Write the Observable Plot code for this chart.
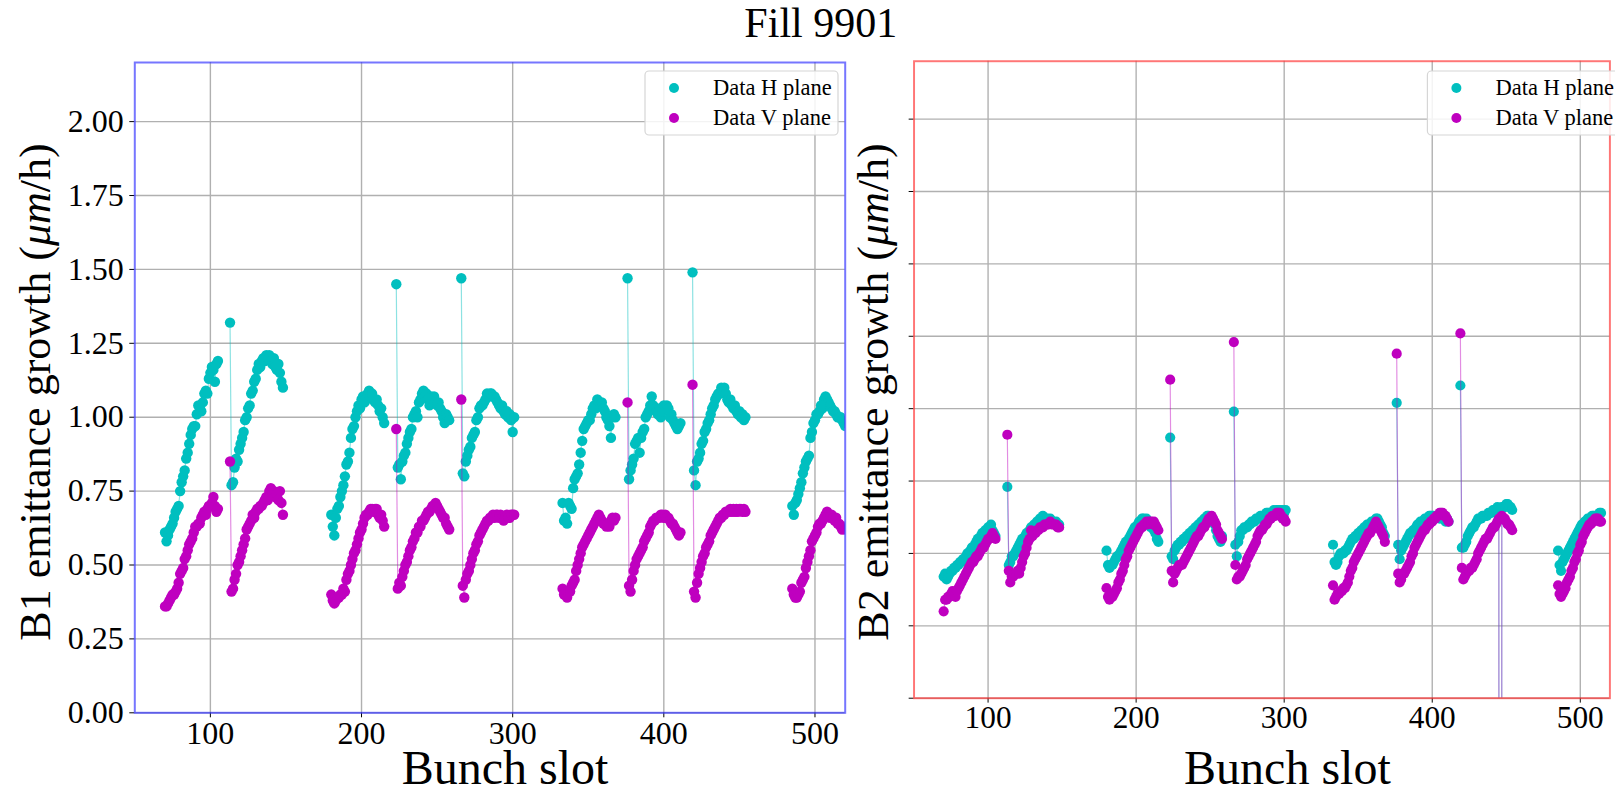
<!DOCTYPE html>
<html>
<head>
<meta charset="utf-8">
<script src="https://cdn.jsdelivr.net/npm/d3@7"></script>
<script src="https://cdn.jsdelivr.net/npm/@observablehq/plot@0.6"></script>
<style>
  html, body { margin: 0; padding: 0; background: #fff; }
  #wrap { position: relative; width: 1615px; height: 792px; overflow: hidden; background: #fff; }
  .panel { position: absolute; top: 0; }
  #overlay { position: absolute; left: 0; top: 0; pointer-events: none; }
</style>
</head>
<body>
<div id="wrap">
  <div id="p1" class="panel" style="left:0px"></div>
  <div id="p2" class="panel" style="left:782.4px"></div>
  <svg id="overlay" width="1615" height="792"></svg>
</div>
<script>
// ---- data ----
const title = "Fill 9901";
const xLabel = "Bunch slot";
const seriesNames = ["Data H plane", "Data V plane"];
const xTicks = [100, 200, 300, 400, 500];
const yTicks = [0, 0.25, 0.5, 0.75, 1.0, 1.25, 1.5, 1.75, 2.0];
const batchStarts = [70, 113, 180, 223, 266, 333, 376, 419, 485];

const b1H = [
  [0.61,0.58,0.60,0.62,0.63,0.64,0.66,0.68,0.69,0.70,0.75,0.78,0.80,0.82,0.86,0.88,0.91,0.94,0.96,0.97,0.97,1.01,1.04,1.03,1.02,1.05,1.08,1.09,1.08,1.13,1.15,1.17,1.16,1.12,1.18,1.19],
  [1.32,0.77,0.78,0.83,0.86,0.85,0.89,0.91,0.93,0.95,0.99,1.00,1.03,1.04,1.08,1.09,1.12,1.13,1.16,1.18,1.17,1.19,1.20,1.19,1.21,1.20,1.21,1.19,1.18,1.20,1.17,1.16,1.18,1.15,1.12,1.10],
  [0.67,0.63,0.60,0.66,0.69,0.70,0.73,0.75,0.77,0.80,0.84,0.85,0.88,0.93,0.96,0.97,1.00,1.02,1.04,1.03,1.06,1.07,1.05,1.06,1.08,1.09,1.07,1.08,1.06,1.05,1.06,1.04,1.02,1.03,1.00,0.98],
  [1.45,0.83,0.84,0.79,0.85,0.87,0.88,0.91,0.93,0.95,0.96,1.00,1.01,1.02,1.00,1.05,1.06,1.08,1.09,1.07,1.08,1.06,1.04,1.07,1.06,1.07,1.05,1.04,1.05,1.03,1.02,1.00,0.98,1.01,1.00,0.99],
  [1.47,0.81,0.80,0.85,0.87,0.89,0.90,0.93,0.94,0.95,0.99,1.00,1.03,1.04,1.04,1.05,1.06,1.08,1.07,1.08,1.08,1.07,1.07,1.06,1.05,1.04,1.03,1.04,1.02,1.01,1.02,1.00,1.01,0.99,0.95,1.00],
  [0.71,0.65,0.66,0.64,0.71,0.70,0.69,0.76,0.79,0.80,0.81,0.84,0.88,0.92,0.96,0.97,0.98,0.99,0.99,1.01,1.03,1.04,1.03,1.06,1.05,1.04,1.05,1.03,1.02,1.00,0.99,0.97,0.93,1.00,1.01,1.00],
  [1.47,0.79,0.82,0.84,0.86,0.91,0.92,0.93,0.88,0.93,0.95,0.96,1.00,1.01,1.02,1.04,1.07,1.04,1.03,1.02,1.01,1.03,1.00,1.02,1.04,1.03,1.04,1.03,1.00,1.01,0.99,0.98,0.97,0.96,0.97,0.98],
  [1.49,0.82,0.77,0.85,0.86,0.88,0.91,0.92,0.95,0.96,0.98,0.99,1.01,1.03,1.04,1.06,1.07,1.08,1.08,1.10,1.09,1.10,1.08,1.06,1.05,1.06,1.04,1.03,1.04,1.02,1.01,1.02,1.00,1.01,0.99,1.00],
  [0.70,0.67,0.71,0.72,0.74,0.76,0.78,0.81,0.83,0.85,0.86,0.87,0.93,0.95,0.98,0.99,1.01,1.01,1.02,1.04,1.03,1.06,1.07,1.06,1.05,1.04,1.03,1.02,1.02,1.01,1.00,1.00,1.00,0.99,0.98,0.97]
];
const b1V = [
  [0.36,0.36,0.37,0.38,0.39,0.40,0.40,0.41,0.42,0.44,0.47,0.48,0.49,0.52,0.53,0.55,0.57,0.58,0.59,0.61,0.63,0.63,0.64,0.64,0.66,0.67,0.68,0.67,0.69,0.70,0.70,0.71,0.73,0.70,0.68,0.69],
  [0.85,0.41,0.42,0.45,0.47,0.50,0.51,0.53,0.55,0.57,0.59,0.62,0.63,0.64,0.65,0.67,0.66,0.68,0.69,0.69,0.70,0.70,0.71,0.72,0.73,0.72,0.75,0.76,0.74,0.75,0.73,0.74,0.72,0.75,0.71,0.67],
  [0.40,0.38,0.37,0.38,0.39,0.39,0.40,0.40,0.42,0.41,0.45,0.47,0.48,0.50,0.52,0.54,0.55,0.57,0.59,0.61,0.62,0.64,0.66,0.67,0.67,0.68,0.69,0.69,0.68,0.69,0.69,0.67,0.66,0.67,0.65,0.63],
  [0.96,0.42,0.44,0.43,0.46,0.48,0.50,0.51,0.53,0.55,0.56,0.58,0.59,0.61,0.61,0.63,0.63,0.65,0.65,0.66,0.67,0.68,0.68,0.69,0.70,0.70,0.71,0.70,0.69,0.68,0.67,0.66,0.66,0.64,0.63,0.62],
  [1.06,0.43,0.39,0.45,0.47,0.48,0.50,0.52,0.54,0.55,0.57,0.58,0.60,0.61,0.62,0.63,0.64,0.65,0.65,0.66,0.66,0.67,0.66,0.67,0.67,0.66,0.67,0.66,0.65,0.66,0.67,0.66,0.66,0.67,0.67,0.67],
  [0.42,0.40,0.41,0.39,0.41,0.41,0.43,0.44,0.45,0.48,0.50,0.52,0.54,0.56,0.57,0.58,0.59,0.60,0.61,0.62,0.63,0.64,0.65,0.66,0.67,0.66,0.65,0.64,0.64,0.63,0.64,0.63,0.65,0.66,0.65,0.66],
  [1.05,0.43,0.41,0.45,0.48,0.50,0.52,0.53,0.54,0.55,0.56,0.58,0.59,0.60,0.61,0.63,0.64,0.65,0.65,0.66,0.66,0.66,0.67,0.67,0.66,0.67,0.66,0.66,0.65,0.64,0.64,0.63,0.62,0.61,0.60,0.61],
  [1.11,0.41,0.39,0.44,0.47,0.49,0.51,0.53,0.54,0.56,0.57,0.58,0.60,0.61,0.62,0.63,0.64,0.65,0.66,0.66,0.67,0.67,0.68,0.68,0.68,0.69,0.68,0.69,0.68,0.69,0.68,0.69,0.69,0.68,0.69,0.68],
  [0.42,0.40,0.39,0.39,0.40,0.41,0.44,0.45,0.46,0.49,0.51,0.53,0.55,0.58,0.59,0.60,0.61,0.63,0.64,0.64,0.65,0.66,0.67,0.68,0.67,0.66,0.67,0.66,0.65,0.66,0.64,0.64,0.63,0.62,0.63,0.62]
];
const b2H = [
  [0.42,0.43,0.41,0.42,0.43,0.44,0.44,0.45,0.45,0.46,0.46,0.47,0.47,0.48,0.48,0.49,0.50,0.50,0.51,0.52,0.52,0.53,0.54,0.55,0.55,0.56,0.57,0.57,0.58,0.58,0.59,0.59,0.60,0.58,0.57,0.56],
  [0.73,0.46,0.47,0.49,0.49,0.50,0.51,0.52,0.53,0.54,0.55,0.55,0.56,0.57,0.57,0.58,0.59,0.59,0.60,0.60,0.61,0.61,0.62,0.62,0.63,0.62,0.62,0.62,0.61,0.62,0.61,0.61,0.60,0.61,0.60,0.60],
  [0.51,0.46,0.45,0.46,0.46,0.47,0.48,0.49,0.49,0.50,0.51,0.52,0.53,0.54,0.54,0.55,0.56,0.57,0.58,0.59,0.59,0.60,0.61,0.61,0.62,0.62,0.61,0.62,0.61,0.60,0.59,0.60,0.58,0.57,0.55,0.54],
  [0.90,0.49,0.48,0.51,0.52,0.53,0.53,0.54,0.54,0.55,0.55,0.56,0.56,0.57,0.57,0.58,0.58,0.59,0.59,0.60,0.60,0.61,0.61,0.62,0.62,0.63,0.63,0.62,0.62,0.61,0.60,0.58,0.56,0.55,0.54,0.56],
  [0.99,0.53,0.49,0.54,0.56,0.58,0.58,0.59,0.59,0.59,0.60,0.60,0.61,0.61,0.61,0.62,0.62,0.62,0.63,0.63,0.63,0.63,0.64,0.64,0.64,0.64,0.64,0.65,0.64,0.65,0.65,0.65,0.64,0.65,0.64,0.65],
  [0.53,0.47,0.46,0.47,0.49,0.50,0.50,0.50,0.51,0.51,0.52,0.53,0.54,0.55,0.55,0.56,0.56,0.57,0.57,0.58,0.58,0.59,0.59,0.60,0.60,0.60,0.61,0.61,0.61,0.62,0.62,0.61,0.60,0.59,0.57,0.56],
  [1.02,0.53,0.48,0.51,0.52,0.53,0.54,0.55,0.56,0.57,0.57,0.58,0.58,0.59,0.60,0.60,0.61,0.61,0.61,0.62,0.62,0.62,0.63,0.63,0.63,0.63,0.62,0.63,0.63,0.62,0.63,0.62,0.62,0.61,0.62,0.61],
  [1.08,0.52,0.52,0.53,0.54,0.56,0.57,0.58,0.59,0.59,0.60,0.61,0.62,0.62,0.62,0.63,0.63,0.63,0.63,0.64,0.64,0.64,0.65,0.65,0.65,0.66,0.65,-20,0.66,0.66,0.66,0.67,0.67,0.66,0.66,0.65],
  [0.51,0.46,0.44,0.47,0.48,0.49,0.50,0.51,0.52,0.53,0.54,0.55,0.56,0.57,0.58,0.59,0.60,0.60,0.61,0.61,0.62,0.62,0.62,0.63,0.63,0.63,0.63,0.63,0.64,0.64]
];
const b2V = [
  [0.30,0.34,0.34,0.35,0.35,0.36,0.37,0.36,0.35,0.37,0.38,0.39,0.40,0.41,0.42,0.43,0.44,0.45,0.46,0.47,0.47,0.48,0.49,0.49,0.50,0.51,0.52,0.52,0.53,0.54,0.55,0.55,0.56,0.57,0.56,0.55],
  [0.91,0.44,0.40,0.42,0.42,0.43,0.43,0.44,0.43,0.45,0.47,0.49,0.50,0.52,0.54,0.55,0.58,0.56,0.57,0.57,0.58,0.58,0.59,0.59,0.59,0.60,0.60,0.60,0.60,0.61,0.60,0.60,0.60,0.60,0.59,0.59],
  [0.38,0.35,0.34,0.35,0.35,0.36,0.37,0.38,0.40,0.41,0.43,0.44,0.46,0.48,0.49,0.51,0.52,0.53,0.54,0.55,0.56,0.57,0.58,0.59,0.59,0.60,0.60,0.61,0.60,0.61,0.61,0.60,0.61,0.60,0.59,0.58],
  [1.10,0.44,0.40,0.43,0.44,0.45,0.46,0.46,0.46,0.47,0.48,0.49,0.50,0.51,0.52,0.53,0.54,0.55,0.56,0.56,0.57,0.58,0.59,0.59,0.60,0.61,0.62,0.62,0.63,0.62,0.61,0.60,0.58,0.57,0.56,0.55],
  [1.23,0.46,0.41,0.42,0.42,0.43,0.44,0.45,0.46,0.48,0.49,0.50,0.51,0.52,0.53,0.54,0.56,0.57,0.58,0.58,0.59,0.60,0.60,0.61,0.62,0.62,0.63,0.63,0.63,0.64,0.64,0.64,0.63,0.62,0.62,0.61],
  [0.39,0.34,0.35,0.36,0.36,0.37,0.37,0.38,0.38,0.39,0.40,0.42,0.44,0.45,0.47,0.48,0.49,0.50,0.51,0.52,0.53,0.54,0.55,0.56,0.57,0.57,0.58,0.59,0.60,0.61,0.60,0.59,0.58,0.57,0.56,0.54],
  [1.19,0.43,0.40,0.41,0.43,0.43,0.44,0.45,0.46,0.47,0.49,0.50,0.52,0.53,0.54,0.55,0.56,0.57,0.58,0.58,0.59,0.60,0.60,0.61,0.61,0.62,0.62,0.63,0.63,0.64,0.64,0.64,0.63,0.63,0.62,0.61],
  [1.26,0.45,0.41,0.42,0.43,0.44,0.44,0.45,0.45,0.46,0.47,0.48,0.50,0.51,0.52,0.53,0.54,0.55,0.55,0.56,0.57,0.58,0.59,0.59,0.60,0.61,0.62,-20,0.63,0.62,0.62,0.61,0.60,0.60,0.59,0.58],
  [0.39,0.36,0.35,0.36,0.37,0.38,0.40,0.41,0.42,0.44,0.45,0.47,0.48,0.50,0.51,0.53,0.54,0.56,0.57,0.58,0.59,0.60,0.60,0.61,0.61,0.62,0.62,0.62,0.61,0.61]
];

// ---- build rows ----
function rows(batches) {
  const out = [];
  batches.forEach((vals, b) => vals.forEach((v, i) => out.push({slot: batchStarts[b] + i, value: v, batch: b})));
  return out;
}

const cyan = "#00bfbf", magenta = "#bf00bf";

function makePanel(H, V, frameColor, showLabels) {
  return Plot.plot({
    width: 850, height: 792,
    marginLeft: 134.3, marginRight: 5.3, marginTop: 62, marginBottom: 79.7,
    style: {fontFamily: "'Liberation Serif', 'Times New Roman', serif", fontSize: "32px", color: "#000", background: "transparent"},
    x: {domain: [50, 520]},
    y: {domain: [0, 2.2]},
    marks: [
      Plot.gridX(xTicks, {stroke: "#b0b0b0", strokeOpacity: 1, strokeWidth: 1.4}),
      Plot.gridY(yTicks, {stroke: "#b0b0b0", strokeOpacity: 1, strokeWidth: 1.4}),
      Plot.axisX(xTicks, {tickSize: 5, tickPadding: 3, fontSize: 32, label: null, tickFormat: d => String(d)}),
      Plot.axisY(yTicks, {tickSize: 5, tickPadding: 6, fontSize: 32, label: null,
        tickFormat: showLabels ? d3.format(".2f") : () => ""}),
      Plot.line(rows(H), {x: "slot", y: "value", z: "batch", stroke: cyan, strokeOpacity: 0.45, strokeWidth: 1.2, clip: true}),
      Plot.dot(rows(H), {x: "slot", y: "value", r: 5.2, fill: cyan, stroke: "none", clip: true}),
      Plot.line(rows(V), {x: "slot", y: "value", z: "batch", stroke: magenta, strokeOpacity: 0.45, strokeWidth: 1.2, clip: true}),
      Plot.dot(rows(V), {x: "slot", y: "value", r: 5.2, fill: magenta, stroke: "none", clip: true}),
      Plot.frame({stroke: frameColor, strokeWidth: 2})
    ]
  });
}

document.getElementById("p1").appendChild(makePanel(b1H, b1V, "rgba(60,60,255,0.7)", true));
document.getElementById("p2").appendChild(makePanel(b2H, b2V, "rgba(255,60,60,0.7)", false));

// ---- overlay text: title, axis titles, legends ----
const ov = d3.select("#overlay");
const serif = "'Liberation Serif', 'Times New Roman', serif";
ov.append("text").attr("x", 820.8).attr("y", 36.7).attr("text-anchor", "middle")
  .attr("font-family", serif).attr("font-size", 42).text(title);

const panelOffsets = [0, 782.4];
const yLabelX = [50, 888];
["B1", "B2"].forEach((beam, k) => {
  const off = panelOffsets[k];
  ov.append("text").attr("x", 505 + off).attr("y", 784).attr("text-anchor", "middle")
    .attr("font-family", serif).attr("font-size", 48).text(xLabel);
  const t = ov.append("text").attr("transform", `translate(${yLabelX[k]},392) rotate(-90)`)
    .attr("text-anchor", "middle").attr("font-family", serif).attr("font-size", 44);
  t.append("tspan").text(beam + " emittance growth (");
  t.append("tspan").attr("font-style", "italic").text("μm");
  t.append("tspan").text("/h)");

  const lx = 645 + off, ly = 71;
  ov.append("rect").attr("x", lx).attr("y", ly).attr("width", 193).attr("height", 64).attr("rx", 4)
    .attr("fill", "rgba(255,255,255,0.85)").attr("stroke", "#d6d6d6").attr("stroke-width", 1.2);
  [cyan, magenta].forEach((c, i) => {
    ov.append("circle").attr("cx", lx + 29).attr("cy", ly + 17 + i * 30).attr("r", 5).attr("fill", c);
    ov.append("text").attr("x", lx + 68).attr("y", ly + 24 + i * 30)
      .attr("font-family", serif).attr("font-size", 22.5).text(seriesNames[i]);
  });
});
</script>
</body>
</html>
